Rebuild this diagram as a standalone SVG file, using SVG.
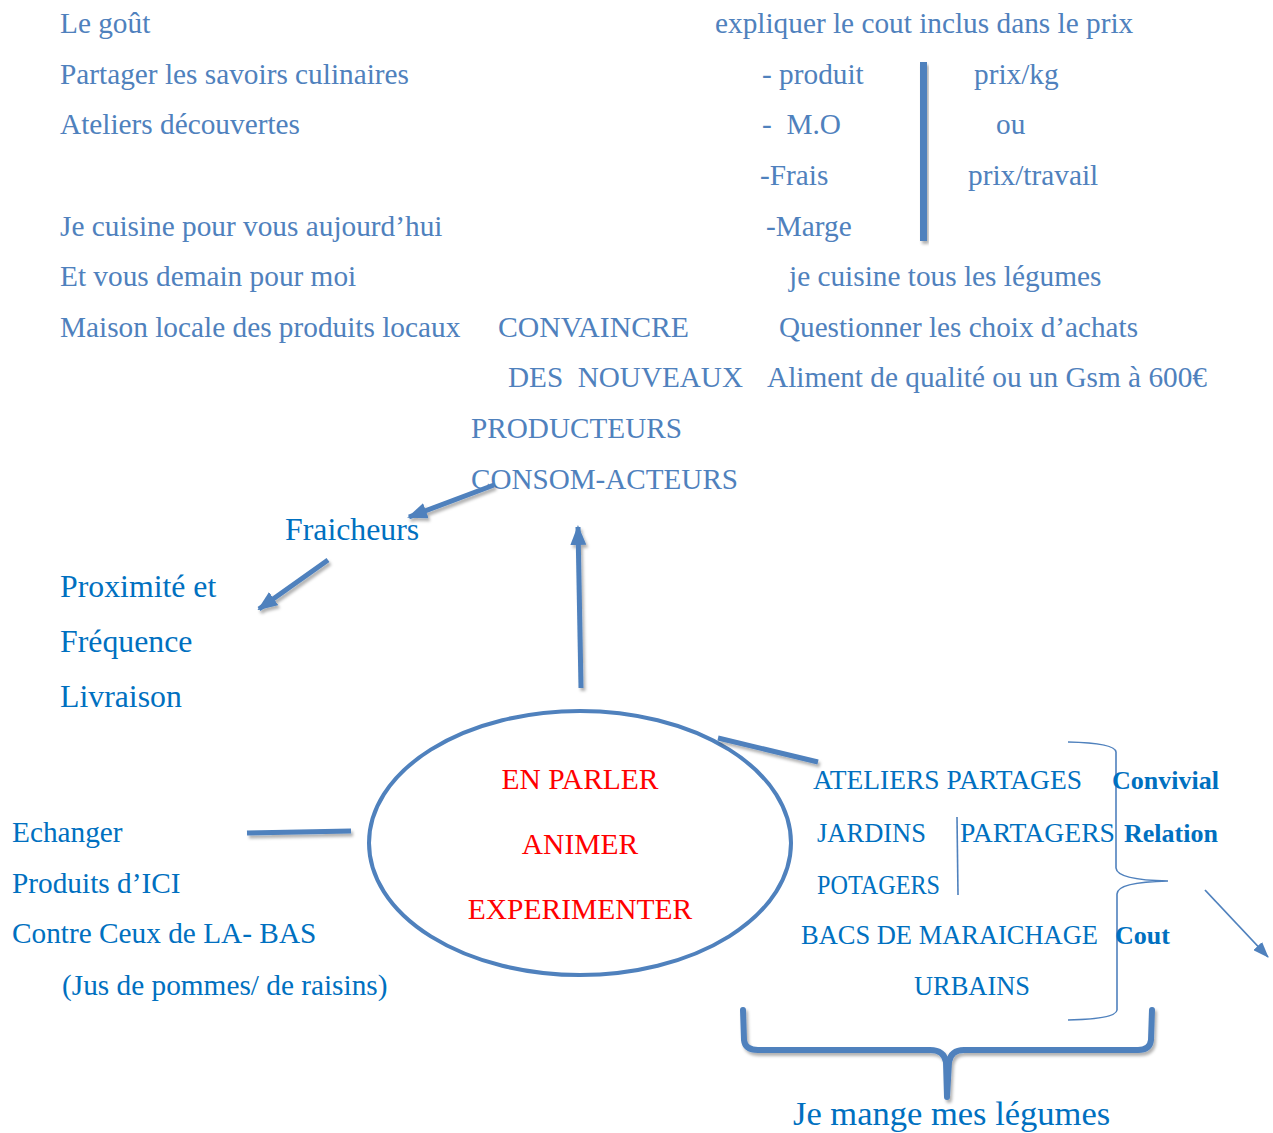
<svg xmlns="http://www.w3.org/2000/svg" width="1273" height="1133" viewBox="0 0 1273 1133">
  <style>
    text { font-family: "Liberation Serif", "Times New Roman", serif; }
    .soft { fill: #4f81bd; font-size: 29.3px; }
    .deep { fill: #0070c0; font-size: 29.3px; }
    .caps { fill: #0070c0; font-size: 26.5px; }
    .big { fill: #0070c0; font-size: 31.8px; }
    .red { fill: #ff0000; font-size: 29.5px; text-anchor: middle; }
    .bold { fill: #0070c0; font-size: 26px; font-weight: bold; }
    .thick { stroke: #4f81bd; stroke-width: 5; fill: none; stroke-linecap: butt; }
    .thin { stroke: #4f81bd; stroke-width: 1.6; fill: none; }
  </style>
  <defs>
    <filter id="shade" x="-20%" y="-20%" width="140%" height="140%">
      <feDropShadow dx="2" dy="3" stdDeviation="1.5" flood-color="#000" flood-opacity="0.3"/>
    </filter>
    <marker id="head" viewBox="0 0 20 16" refX="18" refY="8" markerWidth="20" markerHeight="16" markerUnits="userSpaceOnUse" orient="auto">
      <path d="M0,0 L20,8 L0,16 Z" fill="#4f81bd"/>
    </marker>
    <marker id="headThin" viewBox="0 0 16 12" refX="15" refY="6" markerWidth="16" markerHeight="12" markerUnits="userSpaceOnUse" orient="auto">
      <path d="M0,0 L16,6 L0,12 Z" fill="#4f81bd"/>
    </marker>
  </defs>

  <!-- upper left list -->
  <g id="gout-list">
    <text class="soft" x="60" y="33">Le goût</text>
    <text class="soft" x="60" y="84">Partager les savoirs culinaires</text>
    <text class="soft" x="60" y="134">Ateliers découvertes</text>
    <text class="soft" x="60" y="236">Je cuisine pour vous aujourd’hui</text>
    <text class="soft" x="60" y="286">Et vous demain pour moi</text>
    <text class="soft" x="60" y="337">Maison locale des produits locaux</text>
  </g>

  <!-- price breakdown -->
  <g id="prix">
    <text class="soft" x="715" y="33">expliquer le cout inclus dans le prix</text>
    <text class="soft" x="762" y="84">- produit</text>
    <text class="soft" x="762" y="134" xml:space="preserve">-  M.O</text>
    <text class="soft" x="760" y="185">-Frais</text>
    <text class="soft" x="766" y="236">-Marge</text>
    <text class="soft" x="974" y="84">prix/kg</text>
    <text class="soft" x="996" y="134">ou</text>
    <text class="soft" x="968" y="185">prix/travail</text>
    <rect x="920" y="62" width="7" height="179" fill="#4f81bd" filter="url(#shade)"/>
    <text class="soft" x="789" y="286">je cuisine tous les légumes</text>
  </g>

  <g id="questionner">
    <text class="soft" x="779" y="337" textLength="359" lengthAdjust="spacingAndGlyphs">Questionner les choix d’achats</text>
    <text class="soft" x="767" y="387" textLength="440" lengthAdjust="spacingAndGlyphs">Aliment de qualité ou un Gsm à 600€</text>
  </g>

  <g id="convaincre">
    <text class="soft" x="498" y="337" textLength="191" lengthAdjust="spacingAndGlyphs">CONVAINCRE</text>
    <text class="soft" x="508" y="387" textLength="235" lengthAdjust="spacingAndGlyphs" xml:space="preserve">DES  NOUVEAUX</text>
    <text class="soft" x="471" y="438" textLength="211" lengthAdjust="spacingAndGlyphs">PRODUCTEURS</text>
    <text class="soft" x="471" y="489" textLength="267" lengthAdjust="spacingAndGlyphs">CONSOM-ACTEURS</text>
  </g>

  <g id="fraicheurs">
    <text class="big" x="285" y="540">Fraicheurs</text>
  </g>

  <g id="proximite">
    <text class="big" x="60" y="597">Proximité et</text>
    <text class="big" x="60" y="652">Fréquence</text>
    <text class="big" x="60" y="707">Livraison</text>
  </g>

  <g id="echanger">
    <text class="deep" x="12" y="842">Echanger</text>
    <text class="deep" x="12" y="893">Produits d’ICI</text>
    <text class="deep" x="12" y="943">Contre Ceux de LA- BAS</text>
    <text class="deep" x="62" y="995">(Jus de pommes/ de raisins)</text>
  </g>

  <!-- central ellipse -->
  <g id="centre">
    <ellipse cx="580" cy="843" rx="211" ry="132" fill="none" stroke="#4f81bd" stroke-width="4"/>
    <text class="red" x="580" y="789">EN PARLER</text>
    <text class="red" x="580" y="854">ANIMER</text>
    <text class="red" x="580" y="919">EXPERIMENTER</text>
  </g>

  <!-- shared gardens block -->
  <g id="jardins">
    <text class="caps" x="813" y="789" textLength="269" lengthAdjust="spacingAndGlyphs">ATELIERS PARTAGES</text>
    <text class="caps" x="817" y="842" textLength="109" lengthAdjust="spacingAndGlyphs">JARDINS</text>
    <text class="caps" x="960" y="842" textLength="155" lengthAdjust="spacingAndGlyphs">PARTAGERS</text>
    <text class="caps" x="817" y="894" textLength="123" lengthAdjust="spacingAndGlyphs">POTAGERS</text>
    <text class="caps" x="801" y="944" textLength="297" lengthAdjust="spacingAndGlyphs">BACS DE MARAICHAGE</text>
    <text class="caps" x="914" y="995" textLength="116" lengthAdjust="spacingAndGlyphs">URBAINS</text>
    <line class="thin" x1="957" y1="817" x2="958" y2="895"/>
    <path class="thin" d="M1068,742 Q1115,743 1116,752 L1116,868 Q1117,880 1168,881 Q1117,882 1117,894 L1117,1010 Q1116,1019 1068,1020"/>
    <text class="bold" x="1112" y="789">Convivial</text>
    <text class="bold" x="1124" y="842">Relation</text>
    <text class="bold" x="1115" y="944">Cout</text>
  </g>

  <g id="legumes">
    <text x="793" y="1125" style="fill:#0070c0;font-size:34.5px">Je mange mes légumes</text>
  </g>

  <!-- connectors -->
  <g id="connectors">
    <g filter="url(#shade)">
      <line class="thick" x1="581" y1="688" x2="578" y2="527" marker-end="url(#head)"/>
      <line class="thick" x1="494" y1="485" x2="409" y2="517" marker-end="url(#head)"/>
      <line class="thick" x1="328" y1="560" x2="259" y2="609" marker-end="url(#head)"/>
      <line class="thick" x1="718" y1="738" x2="818" y2="762"/>
      <line class="thick" x1="247" y1="833" x2="351" y2="831"/>
      <path d="M743,1010 L744,1040 Q745,1050 758,1050 L930,1050 Q944,1050 946,1062 L947,1097 L949,1062 Q951,1050 964,1050 L1138,1050 Q1150,1050 1151,1040 L1152,1010" fill="none" stroke="#4f81bd" stroke-width="6" stroke-linejoin="round" stroke-linecap="round"/>
    </g>
    <line x1="1205" y1="890" x2="1268" y2="957" stroke="#4f81bd" stroke-width="1.8" marker-end="url(#headThin)"/>
  </g>
</svg>
